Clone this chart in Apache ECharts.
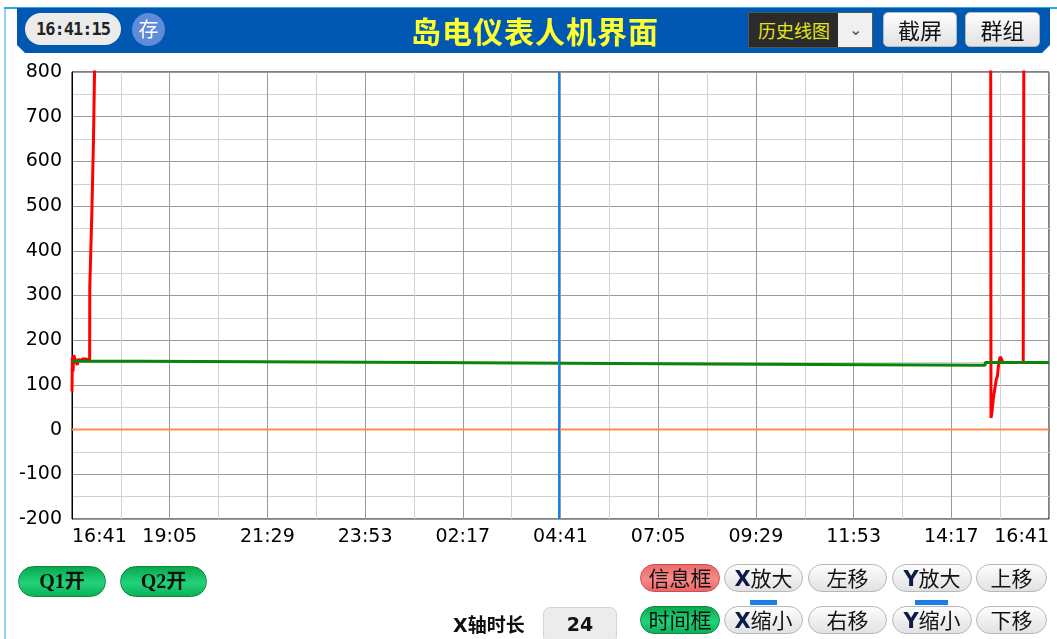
<!DOCTYPE html>
<html>
<head>
    <meta charset="utf-8">
    <title>岛电仪表人机界面</title>
    <script src="https://cdn.jsdelivr.net/npm/echarts@6/dist/echarts.min.js"></script>
</head>
<style>
    body {margin:0;width:1057px;height:639px;background:#fff;overflow:hidden;position:relative;font-family:"Noto Sans CJK SC",sans-serif}
    #chart {position:absolute;left:0;top:0;width:1057px;height:639px;z-index:1}
    .ui {position:absolute;z-index:2;box-sizing:border-box}
    .edge-left {left:4px;top:8px;width:2px;height:631px;background:#8ed2f4}
    .edge-top {left:4px;top:7px;width:1053px;height:2px;background:#2aa8e0}
    .topbar {left:17px;top:8px;width:1033px;height:45px;background:#0058b2;
        clip-path:polygon(0 0,100% 0,100% calc(100% - 8px),calc(100% - 8px) 100%,8px 100%,0 calc(100% - 8px))}
    .clock {left:25px;top:13px;width:96px;height:32px;border-radius:16px;background:#ebebeb;
        font:bold 17px "DejaVu Sans Mono",monospace;color:#222;text-align:center;line-height:32px;letter-spacing:-1px}
    .save {left:132px;top:13px;width:33px;height:33px;border-radius:50%;background:#5f8bd8;color:#fff;
        font-size:20px;text-align:center;line-height:32px}
    .title {left:300px;top:8px;width:470px;height:45px;text-align:center;line-height:44px;color:#ffff2e;
        font-weight:bold;font-size:30px;letter-spacing:1px}
    .select {left:748px;top:12px;width:125px;height:36px;background:#2b2b2b;border:1px solid #555}
    .select span {position:absolute;left:0;top:0;width:90px;height:34px;line-height:34px;text-align:center;color:#e4e41a;font-size:18px}
    .select i {position:absolute;right:0;top:0;width:34px;height:34px;background:#f0f0f0;color:#555;font-style:normal;
        text-align:center;line-height:30px;font-size:16px}
    .btn {border:1px solid #b8b8b8;background:linear-gradient(#fdfdfd,#e2e2e2);color:#111;text-align:center}
    .hbtn {top:12px;height:35px;border-radius:5px;font-size:22px;line-height:33px}
    .pill {border-radius:14px;font-size:21px;line-height:25px;height:28px}
    .green {background:linear-gradient(#0aa84c,#22d27a 55%,#0bb257);border:1px solid #0a8a3a}
    .red {background:linear-gradient(#f06a6a,#f58a8a 55%,#ee6565);border:1px solid #c85050}
    .qbtn {top:566px;height:31px;border-radius:16px;font:bold 20px "Liberation Serif","Noto Sans CJK SC",serif;line-height:29px;color:#111;text-align:center}
    .label {left:453px;top:609px;font-weight:bold;font-size:19px;color:#111;line-height:30px}
    .hours {left:543px;top:607px;width:74px;height:36px;border-radius:7px;background:#ececec;border:1px solid #d4d4d4;
        font:bold 19px "DejaVu Sans",sans-serif;text-align:center;line-height:32px;color:#111}
    .bx {font-weight:bold;font-family:"DejaVu Sans",sans-serif;color:#0d1a4a}
    .mark {height:5px;top:600px;background:#1a80e8}
</style>
<body>
<div id="chart"></div>

<div class="ui edge-left"></div>
<div class="ui edge-top"></div>
<div class="ui topbar"></div>
<div class="ui clock">16:41:15</div>
<div class="ui save">存</div>
<div class="ui title">岛电仪表人机界面</div>
<div class="ui select"><span>历史线图</span><i>&#8964;</i></div>
<div class="ui btn hbtn" style="left:883px;width:74px">截屏</div>
<div class="ui btn hbtn" style="left:965px;width:75px">群组</div>

<div class="ui qbtn green" style="left:18px;width:88px">Q1开</div>
<div class="ui qbtn green" style="left:120px;width:87px">Q2开</div>
<div class="ui label"><span class="bx" style="color:#111">X</span>轴时长</div>
<div class="ui hours">24</div>

<div class="ui btn pill red" style="left:640px;top:564px;width:80px">信息框</div>
<div class="ui btn pill green" style="left:640px;top:606px;width:80px">时间框</div>
<div class="ui btn pill" style="left:724px;top:564px;width:79px"><span class="bx">X</span>放大</div>
<div class="ui btn pill" style="left:724px;top:606px;width:79px"><span class="bx">X</span>缩小</div>
<div class="ui btn pill" style="left:808px;top:564px;width:79px">左移</div>
<div class="ui btn pill" style="left:808px;top:606px;width:79px">右移</div>
<div class="ui btn pill" style="left:892px;top:564px;width:80px"><span class="bx">Y</span>放大</div>
<div class="ui btn pill" style="left:892px;top:606px;width:80px"><span class="bx">Y</span>缩小</div>
<div class="ui btn pill" style="left:976px;top:564px;width:71px">上移</div>
<div class="ui btn pill" style="left:976px;top:606px;width:71px">下移</div>
<div class="ui mark" style="left:750px;width:27px"></div>
<div class="ui mark" style="left:915px;width:33px"></div>

<script>
    // 时间轴：24 小时，单位分钟
    var timeLabels = ['16:41','19:05','21:29','23:53','02:17','04:41','07:05','09:29','11:53','14:17','16:41'];
    var spanMinutes = 1440;
    var cursorTime = 718;

    // 通道1（红）
    var redTimes  = [0, 0.5, 1.5, 2.5, 4, 6, 8, 9, 13, 16, 20, 26, 26.2, 29, 29.2, 31.5, 31.7, 34, 34.2,
                     1354, 1354.5, 1356, 1358, 1360, 1362, 1364, 1366, 1368, 1370, 1372, 1402, 1403, 1440];
    var redValues = [85, 162, 130, 166, 160, 150, 145, 157, 155, 158, 158, 156, 318, 318, 482, 482, 650, 650, 900,
                     900, 26, 40, 70, 72, 110, 120, 150, 163, 158, 150, 150, 900, 900];

    // 通道2（绿）
    var greenTimes  = [0, 105, 522, 939, 1346, 1440];
    var greenValues = [153, 150, 147, 144, 150, 150];

    // 通道3（橙）
    var orangeTimes  = [0, 1440];
    var orangeValues = [0, 0];

    function pairs(ts, vs) {
        return ts.map(function (t, i) { return [t, vs[i]]; });
    }

    var chart = echarts.init(document.getElementById('chart'));
    var axisFont = {color: '#000', fontSize: 19, fontFamily: 'DejaVu Sans'};
    var option = {
        animation: false,
        grid: {left: 72, right: 8, top: 72, bottom: 120, show: true, borderColor: '#000', borderWidth: 1},
        xAxis: {
            type: 'value',
            min: 0,
            max: spanMinutes,
            interval: 144,
            axisLine: {lineStyle: {color: '#000'}},
            axisTick: {show: false},
            axisLabel: Object.assign({
                margin: 9,
                alignMinLabel: 'left',
                alignMaxLabel: 'right',
                formatter: function (v) { return timeLabels[Math.round(v / 144)]; }
            }, axisFont),
            splitLine: {lineStyle: {color: '#9a9a9a', width: 1}},
            minorTick: {show: false, splitNumber: 2},
            minorSplitLine: {show: true, lineStyle: {color: '#d2d2d2', width: 1}}
        },
        yAxis: {
            type: 'value',
            min: -200,
            max: 800,
            interval: 100,
            axisLine: {show: true, lineStyle: {color: '#000'}},
            axisTick: {show: false},
            axisLabel: Object.assign({margin: 10}, axisFont),
            splitLine: {lineStyle: {color: '#9a9a9a', width: 1}},
            minorTick: {show: false, splitNumber: 2},
            minorSplitLine: {show: true, lineStyle: {color: '#d2d2d2', width: 1}}
        },
        series: [
            {
                name: '通道3',
                type: 'line',
                data: pairs(orangeTimes, orangeValues),
                showSymbol: false,
                lineStyle: {color: '#ff8a4c', width: 2},
                z: 2
            },
            {
                name: '通道1',
                type: 'line',
                data: pairs(redTimes, redValues),
                showSymbol: false,
                lineStyle: {color: '#ff0000', width: 3},
                z: 3
            },
            {
                name: '通道2',
                type: 'line',
                step: 'end',
                data: pairs(greenTimes, greenValues),
                showSymbol: false,
                lineStyle: {color: '#0a840a', width: 3},
                z: 4,
                markLine: {
                    silent: true,
                    symbol: 'none',
                    label: {show: false},
                    lineStyle: {color: '#1a7fe8', width: 2, type: 'solid'},
                    data: [{xAxis: cursorTime}]
                }
            }
        ]
    };
    chart.setOption(option);
</script>
</body>
</html>
